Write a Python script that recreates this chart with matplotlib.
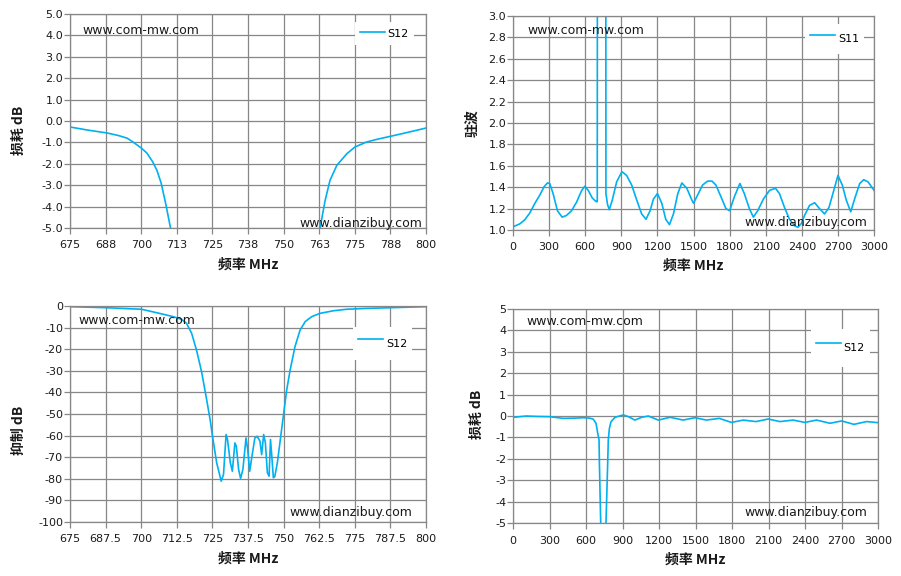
import matplotlib
matplotlib.use('Agg')
import matplotlib.pyplot as plt

# ---------------- data ----------------
# Top-left: S12 pass-band loss, 675-800 MHz
tl_freq = [675, 681, 688, 692, 695, 697, 700, 702, 704, 705.5, 707, 708.5, 710.3, 712,
           761, 762.8, 764.6, 766.3, 768.7, 772.2, 775.1, 779.2, 783, 787.4, 793, 800]
tl_s12 = [-0.28, -0.42, -0.56, -0.68, -0.8, -0.97, -1.26, -1.5, -1.9, -2.3, -2.9, -3.8, -5.0, -6.5,
          -6.5, -5.0, -3.7, -2.77, -2.07, -1.53, -1.21, -0.98, -0.85, -0.72, -0.55, -0.33]

# Top-right: S11 VSWR, 0-3000 MHz
tr_freq = [0, 56, 97, 139, 180, 222, 258, 286, 305, 333, 369, 408, 444, 486, 528, 569, 597,
           625, 658, 691, 700, 701, 771, 772, 785, 800, 825, 861, 905, 944, 986, 1028, 1069,
           1105, 1139, 1167, 1200, 1236, 1269, 1300, 1333, 1369, 1403, 1444, 1486, 1500, 1533,
           1575, 1617, 1653, 1686, 1728, 1769, 1800, 1839, 1885, 1922, 1964, 1997, 2033, 2081,
           2131, 2181, 2214, 2256, 2297, 2339, 2367, 2395, 2422, 2464, 2506, 2547, 2589, 2625,
           2658, 2700, 2736, 2769, 2806, 2844, 2881, 2914, 2950, 3000]
tr_vswr = [1.03, 1.057, 1.095, 1.158, 1.246, 1.325, 1.404, 1.44, 1.435, 1.34, 1.18, 1.12, 1.136,
           1.18, 1.26, 1.366, 1.41, 1.37, 1.30, 1.265, 1.265, 3.5, 3.5, 1.34, 1.24, 1.19, 1.28,
           1.45, 1.545, 1.51, 1.42, 1.28, 1.15, 1.10, 1.18, 1.29, 1.34, 1.25, 1.10, 1.05, 1.15,
           1.34, 1.44, 1.39, 1.28, 1.25, 1.325, 1.42, 1.457, 1.457, 1.42, 1.31, 1.20, 1.18, 1.31,
           1.435, 1.34, 1.20, 1.12, 1.18, 1.29, 1.37, 1.39, 1.34, 1.21, 1.10, 1.04, 1.025, 1.06,
           1.135, 1.23, 1.255, 1.20, 1.15, 1.21, 1.34, 1.51, 1.42, 1.28, 1.17, 1.31, 1.435, 1.47,
           1.45, 1.37]

# Bottom-left: S12 rejection, 675-800 MHz
bl_freq = [675, 687.8, 700.1, 705.4, 711.2, 714.2, 715.9, 717.7, 719.4, 721.2, 723.0, 724.2,
           725.0, 726.5, 728.1, 728.9, 729.8, 730.3, 731.3, 732.0, 732.9, 733.4, 734.2, 734.9,
           735.7, 736.8, 737.4, 738.1, 738.9, 739.9, 740.7, 741.7, 742.3, 743.0, 743.6, 744.3,
           744.9, 745.4, 745.9, 746.4, 746.9, 747.8, 749.0, 750.0, 751.1, 752.3, 754.0, 755.8,
           757.6, 759.9, 762.8, 767.5, 772.2, 779.2, 787.5, 800]
bl_rej = [-0.3, -0.8, -1.5, -3.1, -4.9, -6.2, -8.0, -12.6, -20.3, -30.4, -43.5, -52.6,
          -60.0, -72.6, -81.1, -78.0, -59.5, -61.8, -72.6, -76.5, -63.4, -64.9, -75.7, -79.8,
          -75.7, -61.1, -66.5, -76.5, -69.5, -61.1, -60.3, -62.6, -68.8, -59.5, -63.4, -77.2,
          -78.8, -61.8, -70.3, -79.5, -79.0, -72.6, -60.3, -50.0, -38.8, -29.6, -18.8, -11.1,
          -7.2, -4.9, -3.4, -2.2, -1.5, -1.1, -0.8, -0.3]

# Bottom-right: S12 wide-band loss, 0-3000 MHz
br_freq = [0, 110, 200, 302, 411, 500, 576, 630, 660, 682, 696, 707, 710, 720.6, 725,
           760, 764, 778, 783, 792, 805, 838, 906, 948, 1002, 1057, 1112, 1194, 1290, 1358,
           1398, 1494, 1590, 1695, 1796, 1892, 1996, 2098, 2193, 2303, 2399, 2495, 2605,
           2701, 2802, 2906, 3000]
br_s12 = [-0.06, 0.0, -0.02, -0.03, -0.11, -0.10, -0.08, -0.10, -0.15, -0.34, -0.8, -1.12, -2.2,
          -5.0, -8.0, -8.0, -5.0, -2.2, -1.12, -0.58, -0.27, -0.06, 0.05, -0.03, -0.19, -0.06,
          0.0, -0.19, -0.06, -0.14, -0.19, -0.08, -0.19, -0.11, -0.30, -0.19, -0.26, -0.14,
          -0.26, -0.19, -0.30, -0.19, -0.34, -0.23, -0.39, -0.26, -0.31]

# ticks
tl_xticks = [675, 687.5, 700, 712.5, 725, 737.5, 750, 762.5, 775, 787.5, 800]
tl_xticklabels = ['675', '688', '700', '713', '725', '738', '750', '763', '775', '788', '800']
tl_yticks = [5, 4, 3, 2, 1, 0, -1, -2, -3, -4, -5]
tl_yticklabels = ['5.0', '4.0', '3.0', '2.0', '1.0', '0.0', '-1.0', '-2.0', '-3.0', '-4.0', '-5.0']

tr_xticks = [0, 300, 600, 900, 1200, 1500, 1800, 2100, 2400, 2700, 3000]
tr_xticklabels = ['0', '300', '600', '900', '1200', '1500', '1800', '2100', '2400', '2700', '3000']
tr_yticks = [1.0, 1.2, 1.4, 1.6, 1.8, 2.0, 2.2, 2.4, 2.6, 2.8, 3.0]
tr_yticklabels = ['1.0', '1.2', '1.4', '1.6', '1.8', '2.0', '2.2', '2.4', '2.6', '2.8', '3.0']

bl_xticks = [675, 687.5, 700, 712.5, 725, 737.5, 750, 762.5, 775, 787.5, 800]
bl_xticklabels = ['675', '687.5', '700', '712.5', '725', '737.5', '750', '762.5', '775', '787.5', '800']
bl_yticks = [0, -10, -20, -30, -40, -50, -60, -70, -80, -90, -100]
bl_yticklabels = ['0', '-10', '-20', '-30', '-40', '-50', '-60', '-70', '-80', '-90', '-100']

br_xticks = tr_xticks
br_xticklabels = tr_xticklabels
br_yticks = [5, 4, 3, 2, 1, 0, -1, -2, -3, -4, -5]
br_yticklabels = ['5', '4', '3', '2', '1', '0', '-1', '-2', '-3', '-4', '-5']

wm_top = 'www.com-mw.com'
wm_bottom = 'www.dianzibuy.com'
xlabel = '频率 MHz'

# ---------------- style ----------------
GRID = '#878787'
LINE = '#00B0F0'
TXT = '#1a1a1a'
CJK = ['Noto Sans CJK SC', 'DejaVu Sans']

fig = plt.figure(figsize=(9.01, 5.76), dpi=100)
fig.patch.set_facecolor('white')


def style(ax, xlim, ylim, xt, xtl, yt, ytl, ylabel, ylab_xy, xlab_y):
    ax.set_xlim(*xlim)
    ax.set_ylim(*ylim)
    ax.set_xticks(xt)
    ax.set_xticklabels(xtl)
    ax.set_yticks(yt)
    ax.set_yticklabels(ytl)
    ax.grid(True, color=GRID, lw=0.9)
    ax.set_axisbelow(True)
    for s in ax.spines.values():
        s.set_color(GRID)
        s.set_linewidth(0.9)
    ax.tick_params(axis='both', color=GRID, length=4, width=0.9,
                   labelsize=8, labelcolor=TXT)
    ax.tick_params(axis='x', pad=5)
    ax.tick_params(axis='y', pad=1)
    ax.set_ylabel(ylabel, family=CJK, fontsize=10, fontweight='bold',
                  va='center', ha='center', color=TXT)
    ax.yaxis.set_label_coords(*ylab_xy)
    ax.set_xlabel(xlabel, family=CJK, fontsize=10, fontweight='bold',
                  va='center', ha='center', color=TXT)
    ax.xaxis.set_label_coords(0.5, xlab_y)


def watermarks(ax, top_xy, bot_xy):
    ax.text(top_xy[0], top_xy[1], wm_top, transform=ax.transAxes, fontsize=9,
            ha='left', va='center', color=TXT, zorder=6)
    ax.text(bot_xy[0], bot_xy[1], wm_bottom, transform=ax.transAxes, fontsize=9,
            ha='right', va='center', color=TXT, zorder=6)


def legend(ax, xy, hh):
    ax.legend(loc='center', bbox_to_anchor=xy, frameon=True, facecolor='white',
              edgecolor='none', framealpha=1, fancybox=False, fontsize=8,
              handlelength=2.25, handletextpad=0.25, borderpad=0.45,
              handleheight=hh, borderaxespad=0)


# Top-left
ax1 = fig.add_axes([0.0777, 0.6042, 0.3951, 0.3715])
ax1.plot(tl_freq, tl_s12, color=LINE, lw=1.2, label='S12')
style(ax1, (675, 800), (-5, 5), tl_xticks, tl_xticklabels, tl_yticks, tl_yticklabels,
      '损耗 dB', (-0.143, 0.458), -0.173)
watermarks(ax1, (0.034, 0.921), (0.989, 0.023))
legend(ax1, (0.883, 0.909), 1.5)

# Top-right
ax2 = fig.add_axes([0.5694, 0.6007, 0.4007, 0.3715])
ax2.plot(tr_freq, tr_vswr, color=LINE, lw=1.2, label='S11')
style(ax2, (0, 3000), (1.0, 3.0), tr_xticks, tr_xticklabels, tr_yticks, tr_yticklabels,
      '驻波', (-0.114, 0.5), -0.168)
watermarks(ax2, (0.039, 0.93), (0.981, 0.037))
legend(ax2, (0.891, 0.893), 2.5)

# Bottom-left
ax3 = fig.add_axes([0.0777, 0.09375, 0.3951, 0.375])
ax3.plot(bl_freq, bl_rej, color=LINE, lw=1.2, label='S12')
style(ax3, (675, 800), (-100, 0), bl_xticks, bl_xticklabels, bl_yticks, bl_yticklabels,
      '抑制 dB', (-0.143, 0.426), -0.171)
watermarks(ax3, (0.025, 0.935), (0.961, 0.042))
legend(ax3, (0.879, 0.826), 2.9)

# Bottom-right
ax4 = fig.add_axes([0.5694, 0.092, 0.4051, 0.3715])
ax4.plot(br_freq, br_s12, color=LINE, lw=1.2, label='S12')
style(ax4, (0, 3000), (-5, 5), br_xticks, br_xticklabels, br_yticks, br_yticklabels,
      '损耗 dB', (-0.099, 0.509), -0.173)
watermarks(ax4, (0.038, 0.944), (0.970, 0.047))
legend(ax4, (0.896, 0.818), 3.5)

fig.savefig('out.png', dpi=100, facecolor='white')
